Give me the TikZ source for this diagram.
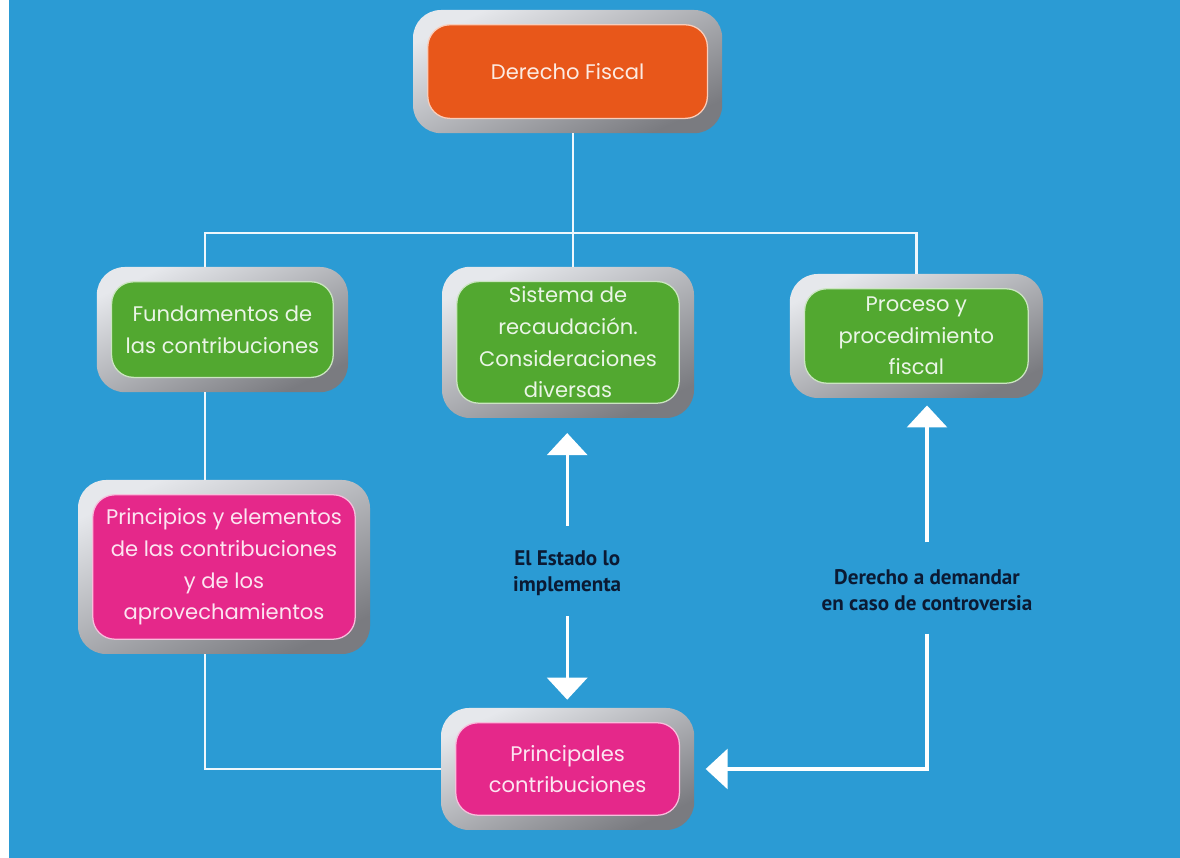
\documentclass[tikz,border=0pt]{standalone}
\usepackage{fontspec}
\setmainfont{Poppins}
\newfontfamily\labelfont{PT Sans}
\usetikzlibrary{arrows.meta}

\definecolor{bgblue}{HTML}{2B9BD4}
\definecolor{fiscalorange}{HTML}{E8571A}
\definecolor{leafgreen}{HTML}{52A830}
\definecolor{taxpink}{HTML}{E5288A}
\definecolor{framelight}{HTML}{E6E8EC}
\definecolor{framedark}{HTML}{7A7B80}
\definecolor{linkwhite}{HTML}{EEF7FC}
\definecolor{labelnavy}{HTML}{0B1A33}

\tikzset{
  frame/.style={rounded corners=0.7cm, top color=framelight, bottom color=framedark,
    shading angle=25, align=center, font=\fontsize{15}{22.5}\selectfont},
  box/.style={frame, text=#1!12!white,
    path picture={
      \draw[fill=#1, draw=#1!30!white, line width=0.9pt, rounded corners=0.55cm]
        ([shift={(0.37,0.37)}]path picture bounding box.south west) rectangle
        ([shift={(-0.37,-0.37)}]path picture bounding box.north east);}},
  link/.style={draw=linkwhite, line width=1.6pt},
  arrow/.style={draw=white, line width=2.2pt, -{Triangle[width=1cm,length=0.55cm]}},
  tag/.style={text=labelnavy, align=center, font=\labelfont\bfseries\fontsize{15}{18.5}\selectfont}
}

\begin{document}
\begin{tikzpicture}
    % Background
    \fill[white] (0,0) rectangle (29.5,21.45);
    \fill[bgblue] (0.225,0) rectangle (29.5,21.45);

    % Top: the subject
    \node[box=fiscalorange, minimum width=7.73cm, minimum height=3.08cm] (fiscal) at (14.19,19.66) {Derecho Fiscal};

    % Middle row
    \node[box=leafgreen, minimum width=6.28cm, minimum height=3.13cm] (fundamentos) at (5.56,13.21) {Fundamentos de\\las contribuciones};
    \node[box=leafgreen, minimum width=6.3cm, minimum height=3.78cm] (sistema) at (14.2,12.89) {Sistema de\\recaudación.\\Consideraciones\\diversas};
    \node[box=leafgreen, minimum width=6.33cm, minimum height=3.1cm] (proceso) at (22.91,13.05) {Proceso y\\procedimiento\\fiscal};

    % Lower boxes
    \node[box=taxpink, minimum width=7.3cm, minimum height=4.35cm] (principios) at (5.6,7.275) {Principios y elementos\\de las contribuciones\\y de los\\aprovechamientos};
    \node[box=taxpink, minimum width=6.33cm, minimum height=3.05cm] (principales) at (14.19,2.225) {Principales\\contribuciones};

    % Arrow labels
    \node[tag] (estado) at (14.18,7.125) {El Estado lo\\implementa};
    \node[tag] (demanda) at (23.175,6.7) {Derecho a demandar\\en caso de controversia};

    % Tree links
    \coordinate (bus) at (14.33,15.625);
    \draw[link] ([xshift=0.14cm]fiscal.south) -- ([xshift=0.14cm]fiscal.south |- sistema.north);
    \draw[link] ([xshift=-0.43cm]fundamentos.north) |- (bus) -| (proceso.north);
    \draw[link] ([xshift=-0.43cm]fundamentos.south) -- ([xshift=-0.43cm]fundamentos.south |- principios.north);
    \draw[link] ([xshift=-0.43cm]fundamentos.south |- principios.south) |- (principales.west);

    % Arrows through the labels
    \draw[arrow, shorten <=0.5cm, shorten >=0.37cm] (estado.north) -- (estado.north |- sistema.south);
    \draw[arrow, shorten <=0.4cm, shorten >=0.2cm] (estado.south) -- (estado.south |- principales.north);
    \draw[arrow, shorten <=0.55cm, shorten >=0.18cm] (demanda.north) -- (demanda.north |- proceso.south);
    \draw[arrow, shorten <=0.45cm, shorten >=0.28cm] (demanda.south) |- (principales.east);
\end{tikzpicture}
\end{document}
